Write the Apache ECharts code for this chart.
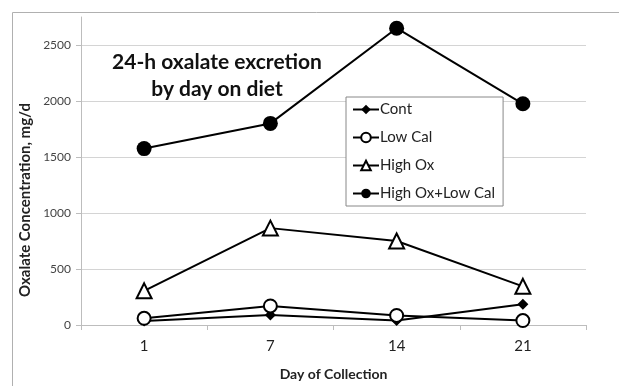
<!DOCTYPE html>
<html>
<head>
<meta charset="utf-8">
<script src="https://cdn.jsdelivr.net/npm/echarts@6/dist/echarts.min.js"></script>
<style>
  html, body { margin: 0; padding: 0; background: #fff; }
  #chart { width: 619px; height: 386px; }
</style>
</head>
<body>
<div id="chart"></div>
<script>
// data
const days = ['1', '7', '14', '21'];
const cont = [35, 90, 40, 185];
const lowCal = [60, 170, 85, 40];
const highOx = [305, 865, 750, 345];
const highOxLowCal = [1575, 1800, 2650, 1975];
const yTicks = [0, 500, 1000, 1500, 2000, 2500];

const FONT = 'Lato, "Open Sans", sans-serif';

function lineSeries(name, data, symbol, size, fill) {
  return {
    name: name,
    type: 'line',
    data: data,
    symbol: symbol,
    symbolSize: size,
    lineStyle: { color: '#000', width: 2 },
    itemStyle: { color: fill, borderColor: '#000', borderWidth: fill === '#000' ? 0 : 2 },
    emphasis: { disabled: true }
  };
}

const myChart = echarts.init(document.getElementById('chart'));
myChart.setOption({
  animation: false,
  textStyle: { fontFamily: FONT },
  title: {
    text: '24-h oxalate excretion\nby day on diet',
    left: 212,
    top: 44,
    textAlign: 'center',
    textStyle: { fontSize: 21, fontWeight: 'bold', color: '#111', lineHeight: 27, fontFamily: FONT }
  },
  // chart frame
  graphic: [{
    type: 'rect',
    left: 10, top: 10,
    shape: { width: 700, height: 500 },
    style: { fill: 'none', stroke: '#b0b0b0', lineWidth: 1 },
    silent: true
  }],
  legend: {
    orient: 'vertical',
    left: 346,
    top: 97,
    width: 158,
    padding: [5, 8, 5, 6],
    backgroundColor: '#fff',
    borderColor: '#888',
    borderWidth: 1,
    itemWidth: 26,
    itemHeight: 12,
    itemGap: 13,
    textStyle: { fontSize: 15, color: '#222', fontFamily: FONT, padding: [0, 0, 0, -4] },
    data: ['Cont', 'Low Cal', 'High Ox', 'High Ox+Low Cal']
  },
  grid: { left: 81, right: 33, top: 17, bottom: 51 },
  xAxis: {
    type: 'category',
    data: days,
    boundaryGap: true,
    name: 'Day of Collection',
    nameLocation: 'middle',
    nameGap: 42,
    nameTextStyle: { fontSize: 14, fontWeight: 'bold', color: '#222' },
    axisLine: { lineStyle: { color: '#bdbdbd', width: 1 } },
    axisTick: { show: true, length: 5, lineStyle: { color: '#bdbdbd' } },
    axisLabel: { fontSize: 15, color: '#222', margin: 14 }
  },
  yAxis: {
    type: 'value',
    min: 0,
    max: 2750,
    interval: 500,
    name: 'Oxalate Concentration, mg/d',
    nameLocation: 'middle',
    nameGap: 43,
    nameTextStyle: { fontSize: 15, fontWeight: 'bold', color: '#222', padding: [0, 58, 0, 0] },
    axisLine: { show: true, lineStyle: { color: '#bdbdbd', width: 1 } },
    axisTick: { show: true, length: 5, customValues: yTicks, lineStyle: { color: '#bdbdbd' } },
    axisLabel: { fontSize: 12, color: '#444', margin: 10, customValues: yTicks, formatter: v => String(v) },
    splitLine: {
      lineStyle: {
        color: ['#d4d4d4', '#d4d4d4', '#d4d4d4', '#d4d4d4', '#d4d4d4', '#d4d4d4', 'rgba(0,0,0,0)'],
        width: 1
      }
    }
  },
  series: [
    lineSeries('Cont', cont, 'diamond', 11, '#000'),
    lineSeries('Low Cal', lowCal, 'circle', 13, '#fff'),
    lineSeries('High Ox', highOx, 'triangle', 15, '#fff'),
    lineSeries('High Ox+Low Cal', highOxLowCal, 'circle', 15, '#000')
  ]
});
</script>
</body>
</html>
